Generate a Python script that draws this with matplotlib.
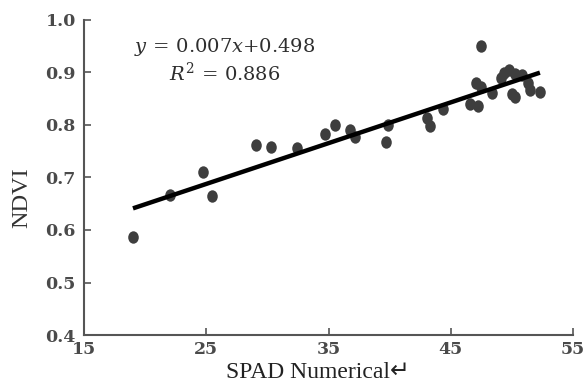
import matplotlib.pyplot as plt
import numpy as np
from matplotlib.path import Path
from matplotlib.transforms import Affine2D

# SPAD readings vs NDVI
spad = [19.0, 22.05, 24.7, 25.5, 29.1, 30.3, 32.4, 34.7, 35.5, 36.8, 37.2,
        39.9, 39.7, 43.1, 43.3, 44.35, 46.6, 47.25, 47.1, 47.5, 47.5, 48.4,
        49.4, 49.8, 50.3, 50.0, 50.3, 51.3, 51.5, 52.3, 49.1, 50.85]
ndvi = [0.587, 0.666, 0.710, 0.664, 0.761, 0.758, 0.755, 0.783, 0.799, 0.790, 0.777,
        0.799, 0.768, 0.812, 0.797, 0.829, 0.840, 0.835, 0.879, 0.949, 0.872, 0.861,
        0.899, 0.905, 0.897, 0.858, 0.853, 0.879, 0.866, 0.863, 0.888, 0.894]

# fitted line as drawn
fit_x = [19.0, 52.3]
fit_y = [0.641, 0.899]

xticks = [15, 25, 35, 45, 55]
yticks = [0.4, 0.5, 0.6, 0.7, 0.8, 0.9, 1.0]

plt.rcParams['font.family'] = ['Liberation Serif', 'DejaVu Sans']
plt.rcParams['mathtext.fontset'] = 'dejavuserif'

# slightly tall oval dots like the scanned figure
oval = Path.unit_circle().transformed(Affine2D().scale(0.85, 1.0))

fig = plt.figure(figsize=(5.84, 3.83), dpi=100)
ax = fig.add_axes([0.144, 0.125, 0.837, 0.824])

ax.scatter(spad, ndvi, s=80, marker=oval, color='#3e3e3e', zorder=3, linewidths=0)
ax.plot(fit_x, fit_y, color='black', lw=3.2, zorder=4, solid_capstyle='butt')

ax.set_xlim(15, 55)
ax.set_ylim(0.4, 1.0)
ax.set_xticks(xticks)
ax.set_yticks(yticks)
ax.set_yticklabels(['%.1f' % v for v in yticks])
ax.tick_params(direction='in', length=5, width=1.2, color='#555555',
               labelsize=12.5, labelcolor='#4a4a4a')
ax.tick_params(axis='y', pad=6)
ax.tick_params(axis='x', pad=4)
for lab in ax.get_xticklabels() + ax.get_yticklabels():
    lab.set_family('DejaVu Serif')
    lab.set_weight('bold')

for s in ['top', 'right']:
    ax.spines[s].set_visible(False)
for s in ['left', 'bottom']:
    ax.spines[s].set_color('#555555')
    ax.spines[s].set_linewidth(1.5)

ax.text(0.288, 0.912, r'$y\,=\,0.007x{+}0.498$', transform=ax.transAxes,
        ha='center', va='center', fontsize=14, color='#2e2e2e')
ax.text(0.288, 0.83, r'$R^2\,=\,0.886$', transform=ax.transAxes,
        ha='center', va='center', fontsize=14, color='#2e2e2e')

ax.set_ylabel('NDVI', fontsize=17.5, color='#333333', va='center')
ax.yaxis.set_label_coords(-0.127, 0.434)
ax.set_xlabel('SPAD Numerical\u21b5', fontsize=17, color='#222222', va='center')
ax.xaxis.set_label_coords(0.479, -0.12)

plt.savefig('out.png', dpi=100)
